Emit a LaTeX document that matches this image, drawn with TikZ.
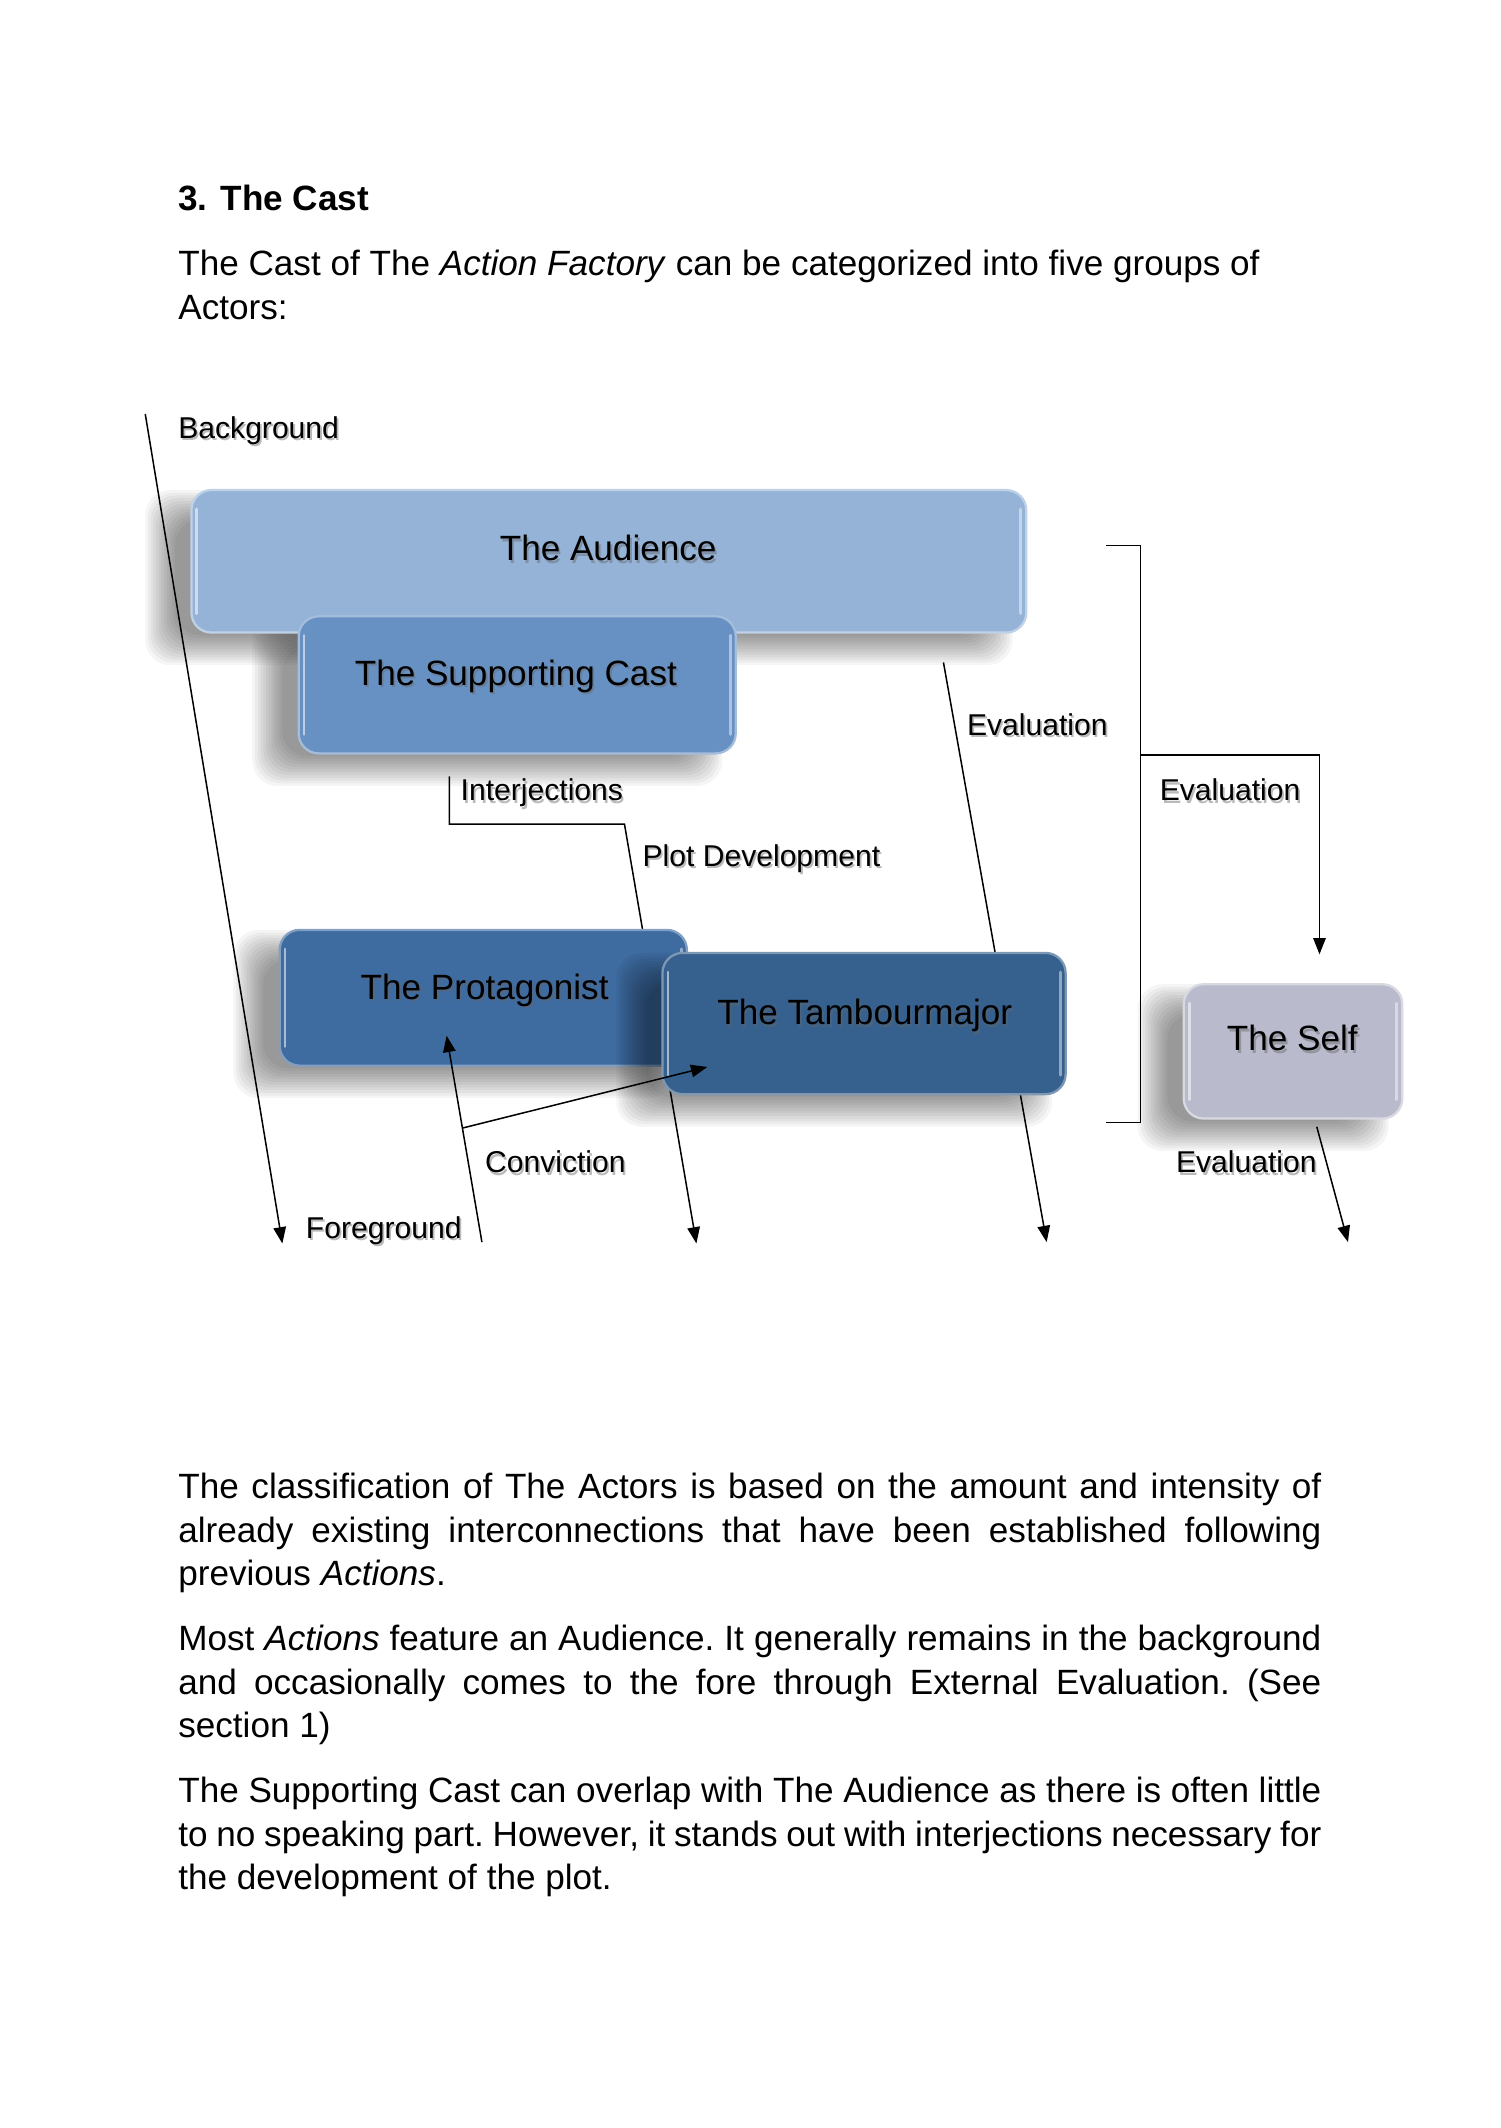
\documentclass[tikz,border=0pt]{standalone}
\usepackage{fontspec}
\setmainfont{Liberation Sans}
\usetikzlibrary{arrows.meta,fit}
\definecolor{audc}{HTML}{95B3D7}
\definecolor{supc}{HTML}{6891C3}
\definecolor{proc}{HTML}{3E6BA0}
\definecolor{tamc}{HTML}{36608D}
\definecolor{selfc}{HTML}{B9BACB}
\newcommand{\softshadow}[4]{%
  \foreach \e in {12,10,...,-10}{%
    \fill[black, opacity=0.038, rounded corners=10pt]
      ({#1-22-\e},{#2+12-\e}) rectangle ({#3-22+\e},{#4+12+\e});
  }}
\newcommand{\bevel}[4]{%
  \draw[white, opacity=0.55, line width=1.1pt, line cap=round]
    ({#1+4},{#2+14}) -- ({#1+4},{#4-14});
  \draw[white, opacity=0.45, line width=1.1pt, line cap=round]
    ({#3-4},{#2+14}) -- ({#3-4},{#4-14});}
\newcommand{\lbl}[4]{%
  \node[lbl, text=black!45, opacity=0.6] (#1s) at ({#2+1.3},{#3+1.6}) {#4};
  \node[lbl] (#1) at (#2,#3) {#4};}
\newcommand{\btxt}[4]{%
  \node[boxtxt, text=black!60, opacity=0.45] (#1s) at ({#2+1.4},{#3+1.8}) {#4};
  \node[boxtxt] (#1) at (#2,#3) {#4};}
\begin{document}
\begin{tikzpicture}[x=0.54116pt,y=-0.54116pt,
  lbl/.style={font=\fontsize{12}{14}\selectfont, anchor=base west, inner sep=0pt},
  boxtxt/.style={font=\fontsize{14}{16}\selectfont, anchor=base, inner sep=0pt},
  body/.style={font=\fontsize{14}{17}\selectfont\frenchspacing, anchor=base west, inner sep=0pt},
  conn/.style={line width=0.6pt, draw=black},
  arr/.style={conn, -{Triangle[length=6.5pt,width=5pt]}},
  actor/.style={inner sep=0pt, rounded corners=8pt, line width=0.9pt}]
\useasboundingbox (0,0) rectangle (1105,1567.6);
\fill[white] (0,0) rectangle (1105,1567.6);

% ---- text above ----
\node[body, font=\fontsize{14}{17}\selectfont\bfseries] (title) at (131,155) {3. The Cast};
\node[body] (intro1) at (131,203) {The Cast of The \textit{Action Factory} can be categorized into five groups of};
\node[body] (intro2) at (131,235) {Actors:};

% ---- shadows ----
\softshadow{141}{361}{756}{466}
\softshadow{220}{454}{542}{555}
\softshadow{872}{725}{1033}{824}
\softshadow{206}{685}{506}{785}

% ---- coordinates ----
\coordinate (bgS) at (107,305);
\coordinate (bgE) at (208,916);
\coordinate (ij1) at (331,572);
\coordinate (ij2) at (331,607);
\coordinate (ij3) at (460,607);
\coordinate (pdE) at (513,916);
\coordinate (ev1) at (695,488);
\coordinate (ev2) at (771,915);
\coordinate (br1) at (815,402);
\coordinate (br2) at (840,402);
\coordinate (br3) at (840,827);
\coordinate (br4) at (815,827);
\coordinate (bb1) at (840,556);
\coordinate (bb2) at (972,556);
\coordinate (bb3) at (972,703);
\coordinate (se1) at (970,830);
\coordinate (se2) at (993,915);
\coordinate (cv0) at (355,915);
\coordinate (cvP) at (329,763);
\coordinate (cvM) at (340.6,831);
\coordinate (cvT) at (521,786);

% ---- lines behind boxes ----
\draw[arr] (bgS) -- (bgE);
\draw[arr] (ij1) -- (ij2) -- (ij3) -- (pdE);
\draw[arr] (ev1) -- (ev2);

% ---- boxes ----
\node[actor, fit={(141,361) (756,466)}, fill=audc, draw=audc!60!white] (aud) {};
\bevel{141}{361}{756}{466}
\node[actor, fit={(220,454) (542,555)}, fill=supc, draw=supc!60!white] (sup) {};
\bevel{220}{454}{542}{555}
\node[actor, fit={(206,685) (506,785)}, fill=proc, draw=proc!65!white] (pro) {};
\bevel{206}{685}{506}{785}
\softshadow{488}{702}{785}{806}
\node[actor, fit={(488,702) (785,806)}, fill=tamc, draw=tamc!65!white] (tam) {};
\bevel{488}{702}{785}{806}
\node[actor, fit={(872,725) (1033,824)}, fill=selfc, draw=selfc!55!white] (self) {};
\bevel{872}{725}{1033}{824}

\btxt{audt}{448}{413}{The Audience}
\btxt{supt}{380}{505}{The Supporting Cast}
\btxt{prot}{357}{736}{The Protagonist}
\btxt{tamt}{637}{755}{The Tambourmajor}
\btxt{selft}{952}{774}{The Self}

% ---- other connectors ----
\draw[conn] (br1) -- (br2) -- (br3) -- (br4);
\draw[arr] (bb1) -- (bb2) -- (bb3);
\draw[arr] (se1) -- (se2);
\draw[arr] (cv0) -- (cvP);
\draw[arr] (cvM) -- (cvT);

% ---- labels ----
\lbl{lbg}{131}{323}{Background}
\lbl{lfg}{225}{912}{Foreground}
\lbl{lij}{339}{590}{Interjections}
\lbl{lpd}{473}{638}{Plot Development}
\lbl{lev1}{712}{542}{Evaluation}
\lbl{lev2}{854}{590}{Evaluation}
\lbl{lev3}{866}{864}{Evaluation}
\lbl{lcv}{357}{864}{Conviction}

% ---- text below ----
\node[body] (p1a) at (131,1104) {\makebox[455.66pt][s]{The classification of The Actors is based on the amount and intensity of}};
\node[body] (p1b) at (131,1136) {\makebox[455.66pt][s]{already existing interconnections that have been established following}};
\node[body] (p1c) at (131,1168) {previous \textit{Actions}.};
\node[body] (p2a) at (131,1216) {\makebox[455.66pt][s]{Most \textit{Actions} feature an Audience. It generally remains in the background}};
\node[body] (p2b) at (131,1248) {\makebox[455.66pt][s]{and occasionally comes to the fore through External Evaluation. (See}};
\node[body] (p2c) at (131,1280) {section 1)};
\node[body] (p3a) at (131,1328) {\makebox[455.66pt][s]{The Supporting Cast can overlap with The Audience as there is often little}};
\node[body] (p3b) at (131,1360) {\makebox[455.66pt][s]{to no speaking part. However, it stands out with interjections necessary for}};
\node[body] (p3c) at (131,1392) {the development of the plot.};
\end{tikzpicture}
\end{document}
